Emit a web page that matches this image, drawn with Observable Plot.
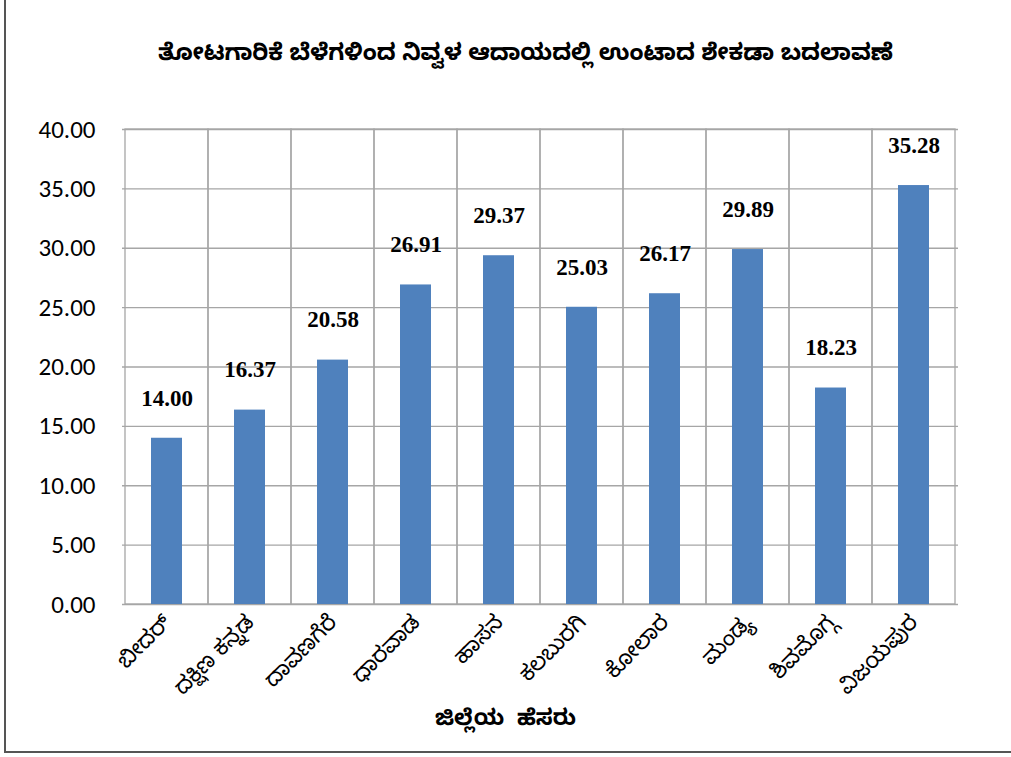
<!DOCTYPE html>
<html>
<head>
<meta charset="utf-8">
<script src="https://cdn.jsdelivr.net/npm/d3@7"></script>
<script src="https://cdn.jsdelivr.net/npm/@observablehq/plot@0.6"></script>
<style>
  html, body { margin: 0; padding: 0; background: #fff; }
  #wrap { position: relative; width: 1011px; height: 757px; overflow: hidden; }
  #frame { position: absolute; left: 4px; top: 0; width: 1010px; height: 753px;
           border-left: 2px solid #555; border-bottom: 2px solid #555; box-sizing: border-box; pointer-events: none; }
</style>
</head>
<body>
<div id="wrap"><div id="frame"></div></div>
<script>
const title = "ತೋಟಗಾರಿಕೆ ಬೆಳೆಗಳಿಂದ ನಿವ್ವಳ ಆದಾಯದಲ್ಲಿ ಉಂಟಾದ ಶೇಕಡಾ ಬದಲಾವಣೆ";
const xTitle = "ಜಿಲ್ಲೆಯ  ಹೆಸರು";
const districts = ["ಬೀದರ್", "ದಕ್ಷಿಣ ಕನ್ನಡ", "ದಾವಣಗೆರೆ", "ಧಾರವಾಡ", "ಹಾಸನ", "ಕಲಬುರಗಿ", "ಕೋಲಾರ", "ಮಂಡ್ಯ", "ಶಿವಮೊಗ್ಗ", "ವಿಜಯಪುರ"];
const values = [14.00, 16.37, 20.58, 26.91, 29.37, 25.03, 26.17, 29.89, 18.23, 35.28];
const yTicks = [0, 5, 10, 15, 20, 25, 30, 35, 40];

const data = districts.map((d, i) => ({district: d, value: values[i]}));
const kn = "'Noto Sans Kannada', 'Noto Serif Kannada', 'Tunga', 'Lohit Kannada', 'Noto Sans', sans-serif";

const chart = Plot.plot({
  width: 1011,
  height: 757,
  marginLeft: 122,
  marginRight: 53,
  marginTop: 129,
  marginBottom: 153,
  style: {background: "transparent", fontFamily: kn},
  x: {domain: districts, padding: 0, label: null},
  y: {domain: [0, 40], label: null},
  marks: [
    Plot.barY(districts, {x: d => d, y1: 0, y2: 40, fill: "none", stroke: "#a6a6a6", strokeWidth: 1.3}),
    Plot.ruleY(yTicks, {stroke: "#a6a6a6", strokeWidth: 1.3}),
    Plot.barY(data, {x: "district", y: "value", fill: "#4F81BD", insetLeft: 26, insetRight: 26}),
    Plot.text(data, {x: "district", y: "value", text: d => d.value.toFixed(2), dy: -40,
      fontFamily: "'Liberation Serif', 'Times New Roman', serif", fontSize: 23, fontWeight: "bold", fill: "#000"}),
    Plot.axisY({ticks: yTicks, tickFormat: d => d.toFixed(2), tickSize: 0, tickPadding: 27,
      fontSize: 25, fontFamily: "Carlito, 'Open Sans', 'Liberation Sans', sans-serif", fill: "#000"}),
    Plot.axisX({tickSize: 0, tickRotate: -45, tickPadding: 14, fontSize: 22, fontFamily: kn, fill: "#000", textAnchor: "end"}),
    Plot.text([title], {frameAnchor: "top", dx: -15, dy: -86, text: d => d, fontSize: 23, fontWeight: "bold", fontFamily: kn, fill: "#000"}),
    Plot.text([xTitle], {frameAnchor: "bottom", dx: -35, dy: 120, text: d => d, fontSize: 22, fontWeight: "bold", fontFamily: kn, fill: "#000"})
  ]
});
document.getElementById("wrap").prepend(chart);
</script>
</body>
</html>
